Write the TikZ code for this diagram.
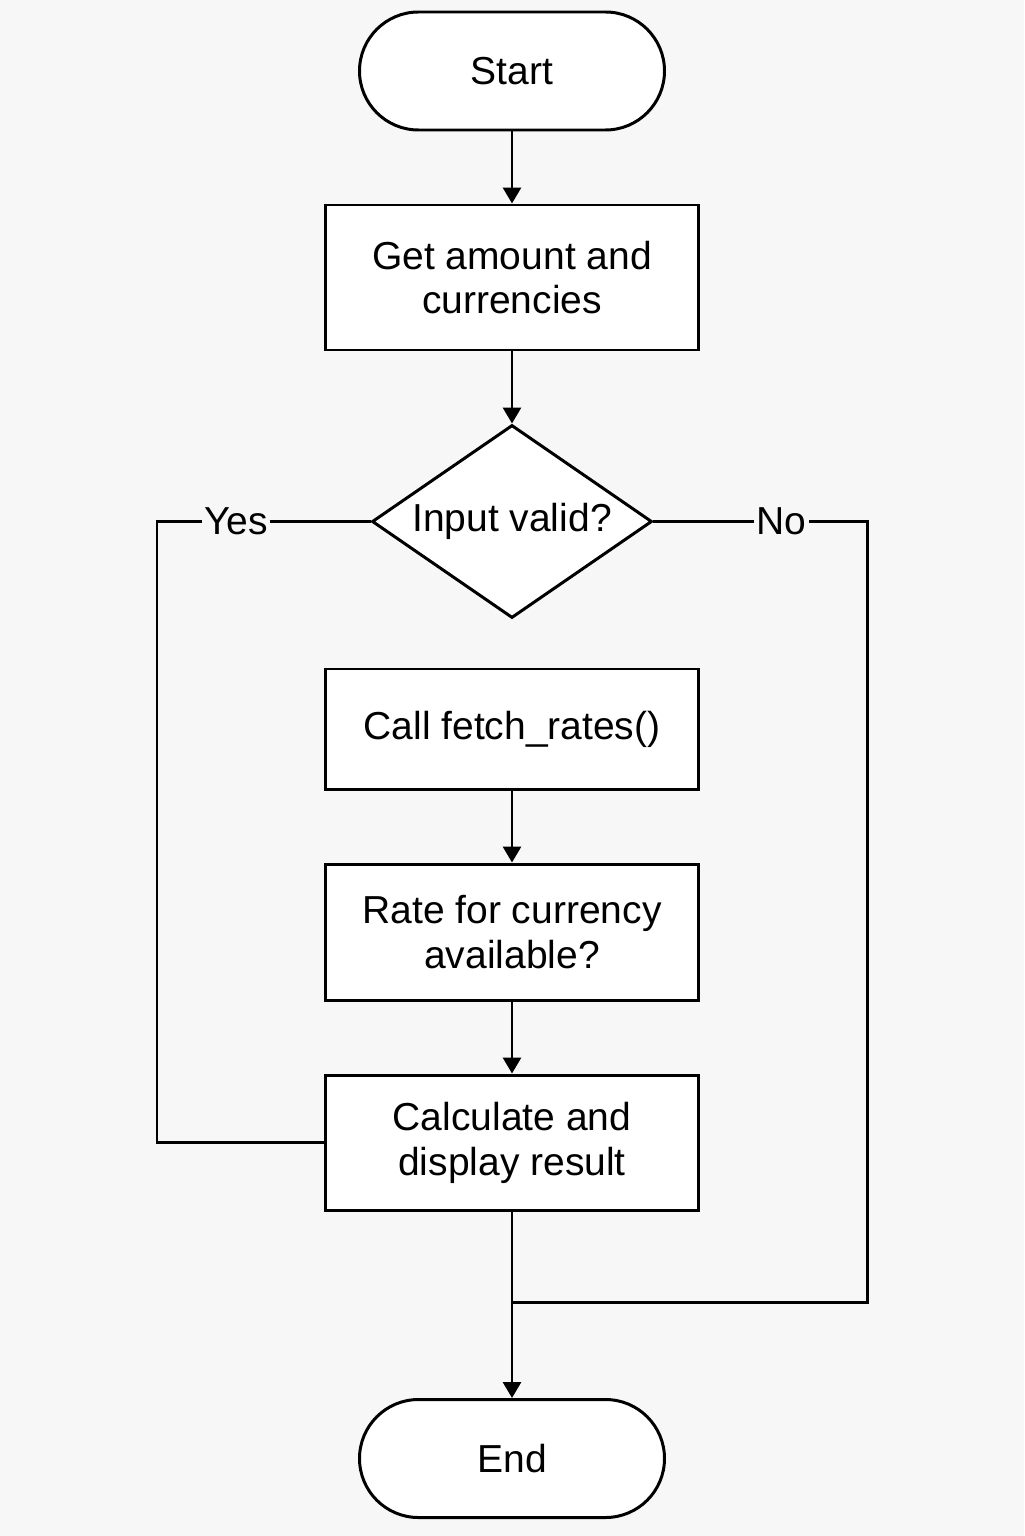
\documentclass[tikz,border=0pt]{standalone}
\usepackage{fontspec}
\setmainfont{Liberation Sans}
\usetikzlibrary{arrows.meta, shapes.geometric}
\definecolor{bggray}{HTML}{F7F7F7}

\begin{document}
\begin{tikzpicture}[
        box/.style={draw, line width=1.7pt, fill=white, minimum width=7.46cm, align=center, inner sep=0pt, font=\fontsize{22.2}{25.5}\selectfont},
        term/.style={box, minimum width=6.1cm, minimum height=2.36cm, rounded corners=1.18cm},
        decision/.style={box, diamond, aspect=1.45, minimum width=5.6cm, minimum height=3.86cm},
        flow/.style={line width=1.7pt, -{Triangle[length=0.32cm, width=0.36cm]}},
        link/.style={line width=1.7pt},
        tag/.style={fill=bggray, inner sep=1.5pt, font=\fontsize{22.2}{25.5}\selectfont}
    ]
        \fill[bggray] (-10.24,0) rectangle (10.24,-30.72);
        \useasboundingbox (-10.24,0) rectangle (10.24,-30.72);

        \node[term] (start) at (0,-1.42) {Start};
        \node[box, minimum height=2.9cm] (get) at (0,-5.55) {Get amount and\\currencies};
        \node[decision] (valid) at (0,-10.43) {Input valid?};
        \node[box, minimum height=2.4cm] (fetch) at (0,-14.58) {Call fetch\_rates()};
        \node[box, minimum height=2.72cm] (rate) at (0,-18.64) {Rate for currency\\available?};
        \node[box, minimum height=2.7cm] (calc) at (0,-22.85) {Calculate and\\display result};
        \node[term] (end) at (0,-29.17) {End};

        \coordinate (yesturn) at (-7.1,-10.43);
        \coordinate (noturn) at (7.1,-10.43);
        \coordinate (join) at (0,-26.04);

        \draw[flow] (start.south) -- (get.north);
        \draw[flow] (get.south) -- (valid.north);
        \draw[flow] (fetch.south) -- (rate.north);
        \draw[flow] (rate.south) -- (calc.north);
        \draw[flow] (calc.south) -- (end.north);

        \draw[link] (valid.west) -- node[tag, pos=0.63] {Yes} (yesturn) |- (calc.west);
        \draw[link] (valid.east) -- node[tag, pos=0.6] {No} (noturn) |- (join);
    \end{tikzpicture}
\end{document}
